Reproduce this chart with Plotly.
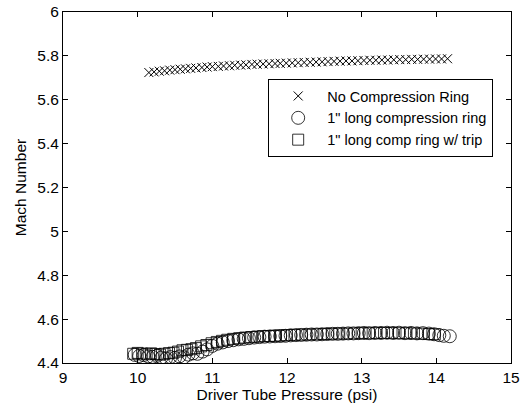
import plotly.graph_objects as go

# Series 1: No Compression Ring
p_none = [10.15, 10.22, 10.29, 10.36, 10.43, 10.50, 10.57, 10.64, 10.71, 10.78, 10.86, 10.93,
          11.00, 11.08, 11.15, 11.23, 11.30, 11.38, 11.45, 11.53, 11.60, 11.68, 11.76, 11.84,
          11.91, 11.99, 12.07, 12.15, 12.23, 12.31, 12.39, 12.47, 12.55, 12.63, 12.71, 12.79,
          12.87, 12.95, 13.03, 13.11, 13.19, 13.27, 13.35, 13.43, 13.51, 13.59, 13.67, 13.75,
          13.83, 13.91, 13.99, 14.07, 14.15]
m_none = [5.724, 5.727, 5.730, 5.732, 5.735, 5.737, 5.739, 5.741, 5.743, 5.745, 5.747, 5.749,
          5.751, 5.752, 5.754, 5.755, 5.757, 5.758, 5.759, 5.761, 5.762, 5.763, 5.764, 5.765,
          5.766, 5.767, 5.768, 5.769, 5.770, 5.771, 5.772, 5.773, 5.774, 5.775, 5.776, 5.777,
          5.777, 5.778, 5.779, 5.780, 5.780, 5.781, 5.781, 5.782, 5.783, 5.783, 5.784, 5.784,
          5.785, 5.785, 5.786, 5.786, 5.787]

# Series 2: 1" long compression ring
p_ring = [9.96, 10.02, 10.08, 10.14, 10.20, 10.26, 10.32, 10.38, 10.44, 10.50, 10.56, 10.62,
          10.68, 10.74, 10.80, 10.87, 10.93, 11.00, 11.07, 11.14, 11.21, 11.28, 11.35, 11.42,
          11.49, 11.56, 11.63, 11.70, 11.77, 11.84, 11.91, 11.98, 12.05, 12.12, 12.19, 12.26,
          12.33, 12.40, 12.47, 12.54, 12.61, 12.68, 12.75, 12.82, 12.89, 12.96, 13.03, 13.10,
          13.18, 13.26, 13.34, 13.42, 13.50, 13.58, 13.66, 13.74, 13.82, 13.90, 13.97, 14.04,
          14.10, 14.18]
m_ring = [4.437, 4.432, 4.436, 4.430, 4.428, 4.433, 4.425, 4.420, 4.427, 4.423, 4.430, 4.426,
          4.438, 4.444, 4.442, 4.452, 4.462, 4.478, 4.488, 4.494, 4.500, 4.504, 4.508, 4.510,
          4.513, 4.516, 4.518, 4.520, 4.521, 4.522, 4.523, 4.524, 4.526, 4.527, 4.528, 4.529,
          4.530, 4.530, 4.531, 4.532, 4.533, 4.533, 4.534, 4.535, 4.535, 4.536, 4.537, 4.536,
          4.537, 4.537, 4.538, 4.537, 4.538, 4.536, 4.537, 4.535, 4.536, 4.534, 4.531, 4.527,
          4.524, 4.522]

# Series 3: 1" long comp ring w/ trip
p_trip = [9.94, 10.00, 10.06, 10.12, 10.18, 10.24, 10.30, 10.36, 10.42, 10.48, 10.54, 10.60,
          10.66, 10.72, 10.78, 10.85, 10.92, 10.99, 11.06, 11.13, 11.20, 11.28, 11.36, 11.44,
          11.52, 11.60, 11.68, 11.76, 11.84, 11.92, 12.00, 12.10, 12.20, 12.30, 12.40, 12.50,
          12.60, 12.70, 12.80, 12.90, 13.00, 13.10, 13.20, 13.30, 13.40, 13.50, 13.60, 13.70,
          13.80, 13.90, 13.98]
m_trip = [4.442, 4.446, 4.443, 4.440, 4.444, 4.441, 4.438, 4.442, 4.445, 4.447, 4.452, 4.458,
          4.460, 4.463, 4.468, 4.476, 4.482, 4.490, 4.496, 4.501, 4.506, 4.510, 4.513, 4.516,
          4.518, 4.520, 4.522, 4.523, 4.524, 4.525, 4.527, 4.528, 4.529, 4.530, 4.531, 4.532,
          4.533, 4.534, 4.534, 4.535, 4.536, 4.536, 4.537, 4.537, 4.537, 4.536, 4.536, 4.535,
          4.534, 4.532, 4.531]

names = ["No Compression Ring", '1" long compression ring', '1" long comp ring w/ trip']

fig = go.Figure()
fig.add_trace(go.Scatter(x=p_none, y=m_none, mode="markers", name=names[0],
                         marker=dict(symbol="x-thin-open", size=9, color="black",
                                     line=dict(width=1, color="black"))))
fig.add_trace(go.Scatter(x=p_ring, y=m_ring, mode="markers", name=names[1],
                         marker=dict(symbol="circle-open", size=13, color="black",
                                     line=dict(width=0.8, color="black"))))
fig.add_trace(go.Scatter(x=p_trip, y=m_trip, mode="markers", name=names[2],
                         marker=dict(symbol="square-open", size=11, color="black",
                                     line=dict(width=0.8, color="black"))))

font = "Liberation Sans, Arial, Helvetica, sans-serif"
axis_common = dict(showgrid=False, zeroline=False, showline=True, linecolor="black",
                   linewidth=1, mirror="ticks", ticks="inside", ticklen=5,
                   tickcolor="black", automargin=False,
                   tickfont=dict(family=font, size=15.5, color="black"))

fig.update_layout(
    width=526, height=406,
    margin=dict(l=63, r=15, t=12, b=43),
    paper_bgcolor="white", plot_bgcolor="white",
    font=dict(family=font, size=15.5, color="black"),
    xaxis=dict(range=[9, 15], dtick=1, tick0=9,
               title=dict(text="Driver Tube Pressure (psi)", standoff=0,
                          font=dict(family=font, size=15.5)), **axis_common),
    yaxis=dict(range=[4.4, 6], dtick=0.2, tick0=4.4,
               title=dict(text="Mach Number", standoff=6,
                          font=dict(family=font, size=15.5)), **axis_common),
    legend=dict(x=0.458, y=0.809, xanchor="left", yanchor="top",
                bordercolor="black", borderwidth=1, bgcolor="white",
                font=dict(family=font, size=14.5), tracegroupgap=0,
                itemwidth=48, itemsizing="trace"),
    showlegend=True,
)

fig.write_html("out.html")
